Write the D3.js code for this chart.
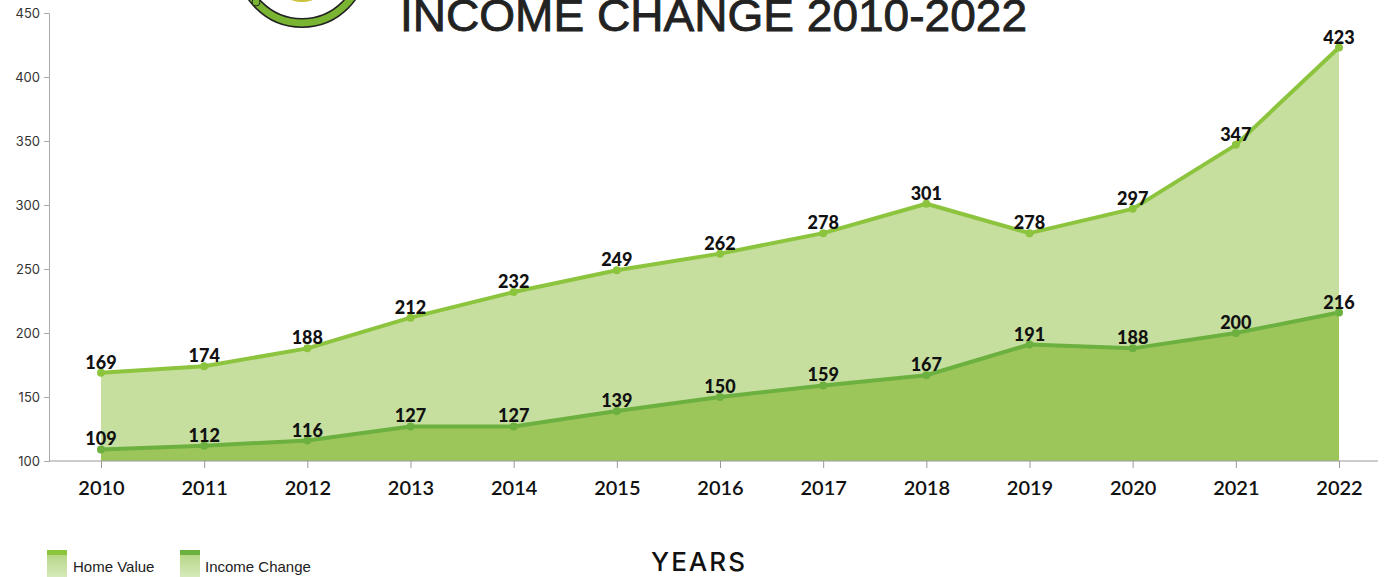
<!DOCTYPE html>
<html>
<head>
  <meta charset="utf-8">
  <title>Income Change 2010-2022</title>
  <script src="https://d3js.org/d3.v7.min.js"></script>
  <style>
    body { margin: 0; background: #fff; }
    .ytick text { font-family: "Inter", "Liberation Sans", sans-serif; font-size: 13px; fill: #333; }
    .xtick text { font-family: "Lato", sans-serif; font-size: 20px; font-weight: 600; fill: #111; }
    .val { font-family: "Lato", sans-serif; font-weight: 900; font-size: 18px; fill: #111; text-anchor: middle; }
    .legend text { font-family: "Liberation Sans", Arial, sans-serif; font-size: 15px; fill: #222; }
  </style>
</head>
<body>
  <svg id="chart" width="1386" height="577"></svg>
  <script>
    // 数据
    const years = [2010, 2011, 2012, 2013, 2014, 2015, 2016, 2017, 2018, 2019, 2020, 2021, 2022];
    const homeValue = [169, 174, 188, 212, 232, 249, 262, 278, 301, 278, 297, 347, 423];
    const incomeChange = [109, 112, 116, 127, 127, 139, 150, 159, 167, 191, 188, 200, 216];
    const yTicks = [100, 150, 200, 250, 300, 350, 400, 450];
    const seriesNames = ["Home Value", "Income Change"];

    const svg = d3.select("#chart");

    const x = d3.scalePoint().domain(years).range([101, 1339]);
    const y = d3.scaleLinear().domain([100, 450]).range([461, 13]);

    // 标志（顶部被裁掉一部分）
    const logo = svg.append("g");
    logo.append("circle").attr("cx", 302).attr("cy", -38).attr("r", 61)
      .attr("fill", "none").attr("stroke", "#222").attr("stroke-width", 10);
    logo.append("circle").attr("cx", 302).attr("cy", -38).attr("r", 61)
      .attr("fill", "none").attr("stroke", "#79b532").attr("stroke-width", 7);
    logo.append("circle").attr("cx", 256).attr("cy", 2).attr("r", 4)
      .attr("fill", "#79b532").attr("stroke", "#222").attr("stroke-width", 1);
    logo.append("ellipse").attr("cx", 302).attr("cy", -2).attr("rx", 12).attr("ry", 4)
      .attr("fill", "#c9c23a");

    // 标题（参考图中也被上边裁掉）
    svg.append("text")
      .attr("x", 400).attr("y", 31)
      .attr("textLength", 627).attr("lengthAdjust", "spacingAndGlyphs")
      .style("font-family", "Liberation Sans, Arial, sans-serif")
      .style("font-size", "44px").style("fill", "#222")
      .style("stroke", "#222").style("stroke-width", 0.8)
      .text("INCOME CHANGE 2010-2022");

    // 面积
    const areaGen = vals => d3.area()
      .x((d, i) => x(years[i]))
      .y0(y(100))
      .y1(d => y(d))(vals);
    const lineGen = vals => d3.line()
      .x((d, i) => x(years[i]))
      .y(d => y(d))(vals);

    svg.append("path").attr("d", areaGen(homeValue)).attr("fill", "#c6df9f");
    svg.append("path").attr("d", areaGen(incomeChange)).attr("fill", "#9cc65a");

    // 坐标轴
    const yAxis = svg.append("g").attr("class", "ytick")
      .attr("transform", "translate(49,0)")
      .call(d3.axisLeft(y).tickValues(yTicks).tickSize(5).tickPadding(4));
    yAxis.select(".domain").attr("stroke", "#aaa");
    yAxis.selectAll(".tick line").attr("stroke", "#aaa");

    svg.append("line").attr("x1", 49).attr("x2", 1378)
      .attr("y1", y(100)).attr("y2", y(100)).attr("stroke", "#999").attr("stroke-width", 1.2);

    const xAxis = svg.append("g").attr("class", "xtick")
      .attr("transform", `translate(0,${y(100)})`)
      .call(d3.axisBottom(x).tickSize(7).tickPadding(13));
    xAxis.select(".domain").remove();
    xAxis.selectAll(".tick line").attr("stroke", "#999");

    // 折线
    const series = [
      { vals: homeValue, color: "#8cc43e" },
      { vals: incomeChange, color: "#6cb040" }
    ];
    series.forEach(s => {
      svg.append("path").attr("d", lineGen(s.vals))
        .attr("fill", "none").attr("stroke", s.color).attr("stroke-width", 4)
        .attr("stroke-linejoin", "round");
      svg.selectAll(null).data(s.vals).enter().append("circle")
        .attr("cx", (d, i) => x(years[i])).attr("cy", d => y(d))
        .attr("r", 4).attr("fill", s.color);
      svg.selectAll(null).data(s.vals).enter().append("text")
        .attr("class", "val")
        .attr("x", (d, i) => x(years[i])).attr("y", d => y(d) - 4)
        .text(d => d);
    });

    // 轴标题
    svg.append("text").attr("x", 699).attr("y", 571)
      .attr("text-anchor", "middle")
      .style("font-family", "Inter, Liberation Sans, sans-serif")
      .style("font-size", "26px").style("font-weight", 500)
      .style("letter-spacing", "2px").style("fill", "#111")
      .text("YEARS");

    // 图例
    const legend = svg.append("g").attr("class", "legend");
    const legendItems = [
      { name: seriesNames[0], top: "#8cc43e", x: 47, tx: 73 },
      { name: seriesNames[1], top: "#6cb040", x: 180, tx: 205 }
    ];
    legendItems.forEach(l => {
      const grad = svg.append("defs").append("linearGradient")
        .attr("id", "g" + l.x).attr("x1", 0).attr("x2", 0).attr("y1", 0).attr("y2", 1);
      grad.append("stop").attr("offset", 0).attr("stop-color", "#b5d685");
      grad.append("stop").attr("offset", 1).attr("stop-color", "#d6e9bb");
      legend.append("rect").attr("x", l.x).attr("y", 554).attr("width", 20).attr("height", 23)
        .attr("fill", `url(#g${l.x})`);
      legend.append("rect").attr("x", l.x).attr("y", 550).attr("width", 20).attr("height", 5)
        .attr("fill", l.top);
      legend.append("text").attr("x", l.tx).attr("y", 572).text(l.name);
    });
  </script>
</body>
</html>
